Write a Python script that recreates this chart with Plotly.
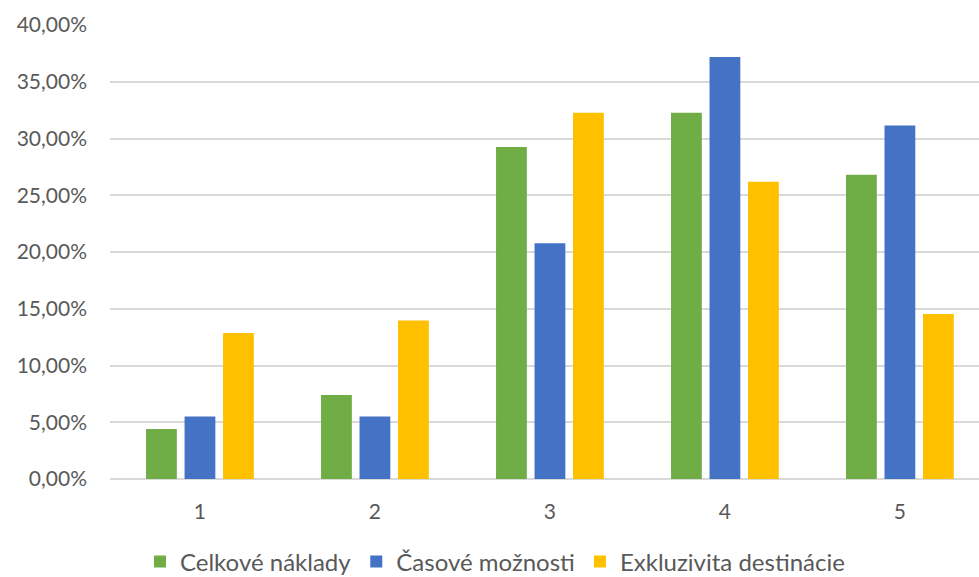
import plotly.graph_objects as go

categories = [1, 2, 3, 4, 5]
tick_labels = ["1", "2", "3", "4", "5"]
series_names = ["Celkové náklady", "Časové možnosti", "Exkluzivita destinácie"]
celkove_naklady = [0.044, 0.074, 0.2925, 0.3226, 0.268]
casove_moznosti = [0.055, 0.055, 0.2077, 0.3717, 0.3114]
exkluzivita_destinacie = [0.1286, 0.1397, 0.3226, 0.262, 0.1453]
colors = ["#70AD47", "#4472C4", "#FFC000"]

fig = go.Figure()
for name, vals, col in zip(series_names,
                           [celkove_naklady, casove_moznosti, exkluzivita_destinacie],
                           colors):
    fig.add_trace(go.Bar(x=categories, y=vals, name=name,
                         marker=dict(color=col, line=dict(width=0))))

font = "Lato, Carlito, 'Open Sans', sans-serif"
fig.update_layout(
    width=979, height=577,
    margin=dict(l=110, r=0, t=25, b=98, autoexpand=False),
    paper_bgcolor="white", plot_bgcolor="white",
    barmode="group", bargap=0.34, bargroupgap=0.2,
    separators=", ",
    font=dict(family=font, size=21, color="#595959"),
    showlegend=True,
    legend=dict(orientation="h", x=0.443, xanchor="center", y=-0.232, yanchor="bottom",
                font=dict(size=24, color="#595959"), itemclick=False,
                traceorder="normal", tracegroupgap=0),
    xaxis=dict(range=[0.486, 5.452], tickvals=categories, ticktext=tick_labels,
               showgrid=False, zeroline=False, showline=False, ticks="",
               ticklabelstandoff=18, tickfont=dict(size=21, color="#595959")),
    yaxis=dict(range=[0, 0.4], dtick=0.05, tickformat=".2%",
               showgrid=True, gridcolor="#D9D9D9", gridwidth=1.5,
               zeroline=True, zerolinecolor="#D9D9D9", zerolinewidth=1.5,
               showline=False, ticks="", ticklabelstandoff=22,
               tickfont=dict(size=21, color="#595959")),
)

fig.write_html("out.html")
